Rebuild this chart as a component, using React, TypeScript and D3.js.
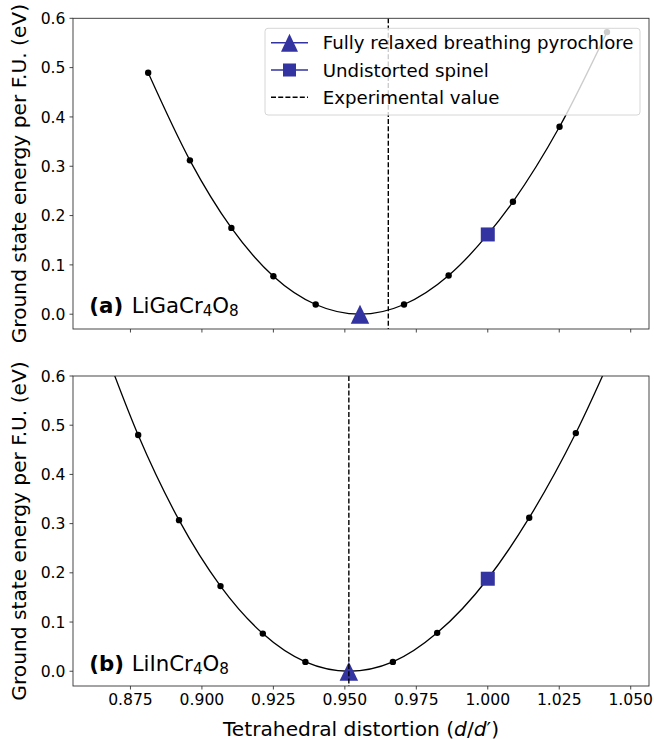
import React from "react";
import * as d3 from "d3";

// axis ticks
const xTicks = [0.875, 0.9, 0.925, 0.95, 0.975, 1.0, 1.025, 1.05];
const yTicks = [0, 0.1, 0.2, 0.3, 0.4, 0.5, 0.6];

// (a) LiGaCr4O8 : computed points
const gaX = [0.8812, 0.8958, 0.9103, 0.925, 0.9398, 0.9707, 0.9863, 1.0088, 1.0251, 1.0417];
const gaE = [0.4895, 0.312, 0.175, 0.077, 0.0197, 0.0197, 0.0785, 0.228, 0.38, 0.572];
const gaRelaxed = { x: 0.9553, e: 0.0 };
const gaSpinel = { x: 1.0, e: 0.1617 };
const gaExperimental = 0.9652;

// (b) LiInCr4O8 : computed points + ends of the fitted curve
const inX = [0.8777, 0.892, 0.9065, 0.9213, 0.9362, 0.9668, 0.9823, 1.0145, 1.0308];
const inE = [0.48, 0.307, 0.173, 0.0765, 0.019, 0.019, 0.078, 0.312, 0.484];
const inFitX = [0.865, 1.047];
const inFitE = [0.67, 0.69];
const inRelaxed = { x: 0.9514, e: 0.0 };
const inSpinel = { x: 1.0, e: 0.188 };
const inExperimental = 0.9514;

const legendLabels = [
  "Fully relaxed breathing pyrochlore",
  "Undistorted spinel",
  "Experimental value",
];

const FONT = "DejaVu Sans, sans-serif";
const BLUE = "#3333a2";
const left = 73;
const right = 649;

const x = d3.scaleLinear().domain([0.8549, 1.0564]).range([left, right]);

const triangle = (cx: number, cy: number, w: number, h: number) =>
  `M${cx},${cy - h / 2}L${cx - w / 2},${cy + h / 2}L${cx + w / 2},${cy + h / 2}Z`;

type PanelProps = {
  id: string;
  top: number;
  bottom: number;
  xs: number[];
  es: number[];
  fitX?: number[];
  fitE?: number[];
  relaxed: { x: number; e: number };
  spinel: { x: number; e: number };
  experimental: number;
  tag: string;
  formula: string;
  showXLabels: boolean;
  children?: React.ReactNode;
};

function Panel(p: PanelProps) {
  const y = d3.scaleLinear().domain([-0.03, 0.6]).range([p.bottom, p.top]);
  const pts: [number, number][] = p.xs.map((v, i) => [v, p.es[i]]);
  pts.push([p.relaxed.x, p.relaxed.e]);
  pts.push([p.spinel.x, p.spinel.e]);
  if (p.fitX && p.fitE) p.fitX.forEach((v, i) => pts.push([v, p.fitE![i]]));
  pts.sort((a, b) => a[0] - b[0]);
  const line = d3
    .line<[number, number]>()
    .x((d) => x(d[0]))
    .y((d) => y(d[1]))
    .curve(d3.curveMonotoneX);
  const mid = (p.top + p.bottom) / 2;
  const labelY = p.bottom - 0.05 * (p.bottom - p.top);

  return (
    <g>
      <defs>
        <clipPath id={p.id}>
          <rect x={left} y={p.top} width={right - left} height={p.bottom - p.top} />
        </clipPath>
      </defs>
      <g clipPath={`url(#${p.id})`}>
        <path d={line(pts) ?? ""} fill="none" stroke="#000" strokeWidth={1.3} />
        {p.xs.map((v, i) => (
          <circle key={i} cx={x(v)} cy={y(p.es[i])} r={3.2} fill="#000" />
        ))}
        <path d={triangle(x(p.relaxed.x), y(p.relaxed.e), 18.5, 19)} fill={BLUE} />
        <rect
          x={x(p.spinel.x) - 7}
          y={y(p.spinel.e) - 7}
          width={14}
          height={14}
          fill={BLUE}
        />
        <line
          x1={x(p.experimental)}
          x2={x(p.experimental)}
          y1={p.top}
          y2={p.bottom}
          stroke="#000"
          strokeWidth={1.4}
          strokeDasharray="5,2.2"
        />
      </g>
      {p.children}
      <rect
        x={left}
        y={p.top}
        width={right - left}
        height={p.bottom - p.top}
        fill="none"
        stroke="#333"
        strokeWidth={0.9}
      />
      {yTicks.map((t) => (
        <g key={t}>
          <line x1={left - 3.5} x2={left} y1={y(t)} y2={y(t)} stroke="#333" strokeWidth={0.9} />
          <text
            x={left - 7.5}
            y={y(t)}
            dy="0.36em"
            textAnchor="end"
            fontSize={15.6}
            fontFamily={FONT}
          >
            {t.toFixed(1)}
          </text>
        </g>
      ))}
      {xTicks.map((t) => (
        <g key={t}>
          <line x1={x(t)} x2={x(t)} y1={p.bottom} y2={p.bottom + 3.5} stroke="#333" strokeWidth={0.9} />
          {p.showXLabels && (
            <text x={x(t)} y={p.bottom + 18.5} textAnchor="middle" fontSize={15.6} fontFamily={FONT}>
              {t.toFixed(3)}
            </text>
          )}
        </g>
      ))}
      <text
        transform={`translate(25.5,${mid}) rotate(-90)`}
        textAnchor="middle"
        fontSize={20.2}
        fontFamily={FONT}
      >
        Ground state energy per F.U. (eV)
      </text>
      <text x={89.3} y={labelY} fontSize={21.3} fontFamily={FONT}>
        <tspan fontWeight="bold">{p.tag}</tspan>
        <tspan x={131.7}>{p.formula}</tspan>
        <tspan fontSize={15.2} dy={3}>4</tspan>
        <tspan dy={-3}>O</tspan>
        <tspan fontSize={15.2} dy={3}>8</tspan>
      </text>
    </g>
  );
}

function Legend() {
  const rows = [42.7, 70, 97.3];
  const hx1 = 271;
  const hx2 = 308;
  const hc = (hx1 + hx2) / 2;
  return (
    <g>
      <rect
        x={265}
        y={28.3}
        width={375}
        height={86.7}
        rx={3}
        fill="#fff"
        fillOpacity={0.8}
        stroke="#d6d6d6"
        strokeWidth={1}
      />
      <line x1={hx1} x2={hx2} y1={rows[0]} y2={rows[0]} stroke={BLUE} strokeWidth={1.4} />
      <path d={triangle(hc, rows[0], 17, 18)} fill={BLUE} />
      <line x1={hx1} x2={hx2} y1={rows[1]} y2={rows[1]} stroke={BLUE} strokeWidth={1.4} />
      <rect x={hc - 6.5} y={rows[1] - 6.5} width={13} height={13} fill={BLUE} />
      <line
        x1={hx1}
        x2={hx2}
        y1={rows[2]}
        y2={rows[2]}
        stroke="#000"
        strokeWidth={1.4}
        strokeDasharray="5,2.2"
      />
      {legendLabels.map((s, i) => (
        <text key={s} x={322.7} y={rows[i]} dy="0.36em" fontSize={18.2} fontFamily={FONT}>
          {s}
        </text>
      ))}
    </g>
  );
}

export default function App() {
  return (
    <svg width={654} height={739} style={{ position: "absolute", left: 0, top: 0 }}>
      <rect width={654} height={739} fill="#fff" />
      <Panel
        id="clipA"
        top={18.3}
        bottom={329}
        xs={gaX}
        es={gaE}
        relaxed={gaRelaxed}
        spinel={gaSpinel}
        experimental={gaExperimental}
        tag="(a)"
        formula="LiGaCr"
        showXLabels={false}
      >
        <Legend />
      </Panel>
      <Panel
        id="clipB"
        top={376}
        bottom={686}
        xs={inX}
        es={inE}
        fitX={inFitX}
        fitE={inFitE}
        relaxed={inRelaxed}
        spinel={inSpinel}
        experimental={inExperimental}
        tag="(b)"
        formula="LiInCr"
        showXLabels={true}
      />
      <text x={(left + right) / 2} y={735.5} textAnchor="middle" fontSize={20.2} fontFamily={FONT}>
        Tetrahedral distortion (<tspan fontStyle="italic">d</tspan>/
        <tspan fontStyle="italic">d</tspan>′)
      </text>
    </svg>
  );
}
